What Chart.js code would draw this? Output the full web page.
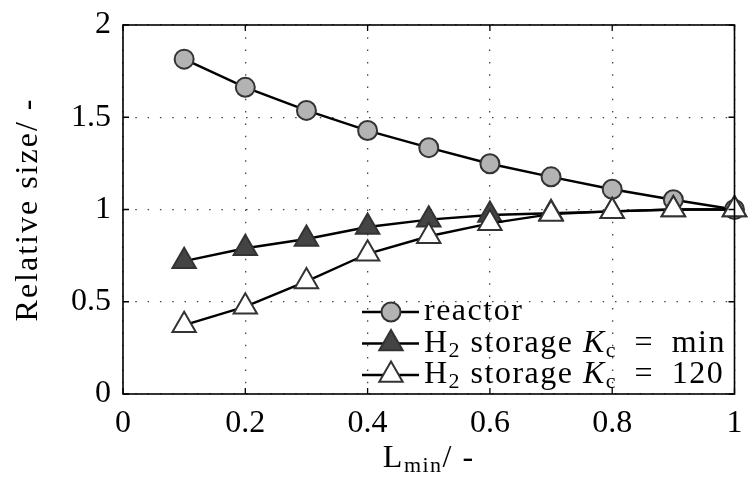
<!DOCTYPE html>
<html>
<head>
<meta charset="utf-8">
<script src="https://cdn.jsdelivr.net/npm/chart.js@4/dist/chart.umd.min.js"></script>
<style>
  html, body { margin: 0; padding: 0; background: #fff; }
  #wrap { width: 750px; height: 483px; }
</style>
</head>
<body>
<div id="wrap"><canvas id="c" width="750" height="483"></canvas></div>
<script>
// ===== DATA =====
const lmin = [0.1, 0.2, 0.3, 0.4, 0.5, 0.6, 0.7, 0.8, 0.9, 1.0];
const reactor = [1.815, 1.662, 1.537, 1.428, 1.335, 1.248, 1.177, 1.110, 1.053, 1.0];
const h2Min = [0.72, 0.79, 0.84, 0.905, 0.945, 0.97, 0.98, 0.99, 1.0, 1.0];
const h2K120 = [0.373, 0.473, 0.61, 0.76, 0.855, 0.925, 0.975, 0.99, 1.0, 1.0];
const xTicks = [0, 0.2, 0.4, 0.6, 0.8, 1];
const yTicks = [0, 0.5, 1, 1.5, 2];

const FONT = '"Liberation Serif", "DejaVu Serif", serif';
const toXY = ys => lmin.map((x, i) => ({ x: x, y: ys[i] }));

// legend entries: rich text pieces (sub = subscript, it = italic)
const legendItems = [
  [{ t: 'reactor' }],
  [{ t: 'H' }, { t: '2', sub: true }, { t: ' storage ' }, { t: 'K', it: true }, { t: 'c', sub: true }, { t: '\u2002=\u2002min' }],
  [{ t: 'H' }, { t: '2', sub: true }, { t: ' storage ' }, { t: 'K', it: true }, { t: 'c', sub: true }, { t: '\u2002=\u2002120' }]
];

function richText(ctx, parts, x, y, size, measureOnly) {
  parts.forEach(p => {
    const s = p.sub ? Math.round(size * 0.7) : size;
    ctx.font = (p.it ? 'italic ' : '') + s + 'px ' + FONT;
    if (!measureOnly) ctx.fillText(p.t, x, p.sub ? y + size * 0.24 : y);
    x += ctx.measureText(p.t).width;
  });
  return x;
}

// ===== FRAME, TITLES, LEGEND =====
const extras = {
  id: 'extras',
  afterDatasetsDraw(chart) {
    const ctx = chart.ctx;
    const a = chart.chartArea;
    const sx = chart.scales.x, sy = chart.scales.y;
    ctx.save();
    // frame + small inward ticks
    ctx.strokeStyle = '#000';
    ctx.lineWidth = 1.6;
    ctx.strokeRect(a.left, a.top, a.right - a.left, a.bottom - a.top);
    ctx.lineWidth = 1.3;
    ctx.beginPath();
    xTicks.forEach(v => {
      const px = sx.getPixelForValue(v);
      ctx.moveTo(px, a.top); ctx.lineTo(px, a.top + 6);
      ctx.moveTo(px, a.bottom); ctx.lineTo(px, a.bottom - 6);
    });
    yTicks.forEach(v => {
      const py = sy.getPixelForValue(v);
      ctx.moveTo(a.left, py); ctx.lineTo(a.left + 6, py);
      ctx.moveTo(a.right, py); ctx.lineTo(a.right - 6, py);
    });
    ctx.stroke();

    // legend
    ctx.textBaseline = 'middle';
    ctx.textAlign = 'left';
    ctx.letterSpacing = '1.5px';
    const lx = a.left + 239;
    const ly = a.bottom - 82;
    chart.data.datasets.forEach((ds, i) => {
      const y = ly + i * 31.5;
      ctx.strokeStyle = '#000';
      ctx.lineWidth = 2.4;
      ctx.beginPath();
      ctx.moveTo(lx, y);
      ctx.lineTo(lx + 57, y);
      ctx.stroke();
      ctx.fillStyle = ds.pointBackgroundColor;
      ctx.strokeStyle = ds.pointBorderColor;
      ctx.lineWidth = ds.pointBorderWidth;
      Chart.helpers.drawPoint(ctx, { pointStyle: ds.pointStyle, radius: ds.pointRadius, rotation: 0, borderWidth: ds.pointBorderWidth }, lx + 29, y);
      ctx.fillStyle = '#000';
      richText(ctx, legendItems[i], lx + 62, y, 32);
    });

    // x title with subscript
    const xParts = [{ t: 'L' }, { t: 'min', sub: true }, { t: '/ -' }];
    const w = richText(ctx, xParts, 0, 0, 32, true);
    richText(ctx, xParts, (a.left + a.right) / 2 - w / 2, 459, 32);

    // y title
    ctx.letterSpacing = '2px';
    ctx.translate(29, (a.top + a.bottom) / 2);
    ctx.rotate(-Math.PI / 2);
    ctx.textAlign = 'center';
    ctx.font = '32px ' + FONT;
    ctx.fillText('Relative size/ -', 0, 0);
    ctx.restore();
  }
};

// ===== CHART =====
const common = {
  borderColor: '#000',
  borderWidth: 2.4,
  pointBorderColor: '#333',
  pointBorderWidth: 2,
  pointHoverRadius: 0,
  tension: 0,
  fill: false,
  clip: false
};

new Chart(document.getElementById('c').getContext('2d'), {
  type: 'line',
  data: {
    datasets: [
      Object.assign({}, common, {
        label: 'reactor',
        data: toXY(reactor),
        pointStyle: 'circle',
        pointRadius: 9.5,
        pointBackgroundColor: '#b3b3b3',
        order: 3
      }),
      Object.assign({}, common, {
        label: 'H2 storage Kc = min',
        data: toXY(h2Min),
        pointStyle: 'triangle',
        pointRadius: 13.5,
        pointBackgroundColor: '#444444',
        order: 2
      }),
      Object.assign({}, common, {
        label: 'H2 storage Kc = 120',
        data: toXY(h2K120),
        pointStyle: 'triangle',
        pointRadius: 13.5,
        pointBackgroundColor: '#ffffff',
        order: 1
      })
    ]
  },
  options: {
    responsive: false,
    animation: false,
    layout: { padding: { top: 25, right: 10, left: 0, bottom: 0 } },
    plugins: {
      legend: { display: false },
      tooltip: { enabled: false }
    },
    scales: {
      x: {
        type: 'linear',
        min: 0,
        max: 1,
        afterBuildTicks: s => { s.ticks = xTicks.map(v => ({ value: v })); },
        afterFit: s => { s.height = 89; s.paddingLeft = 0; s.paddingRight = 0; },
        grid: { color: '#444', lineWidth: 1.3, drawTicks: false },
        border: { display: false, dash: [1.5, 10.8] },
        ticks: {
          color: '#000',
          padding: 10,
          maxRotation: 0,
          font: { family: FONT, size: 32 },
          callback: v => String(+v.toFixed(1))
        }
      },
      y: {
        type: 'linear',
        min: 0,
        max: 2,
        afterBuildTicks: s => { s.ticks = yTicks.map(v => ({ value: v })); },
        afterFit: s => { s.width = 123; s.paddingTop = 0; s.paddingBottom = 0; },
        grid: { color: '#444', lineWidth: 1.3, drawTicks: false },
        border: { display: false, dash: [1.5, 10.8] },
        ticks: {
          color: '#000',
          padding: 12,
          font: { family: FONT, size: 32 },
          callback: v => String(+v.toFixed(1))
        }
      }
    }
  },
  plugins: [extras]
});
</script>
</body>
</html>
